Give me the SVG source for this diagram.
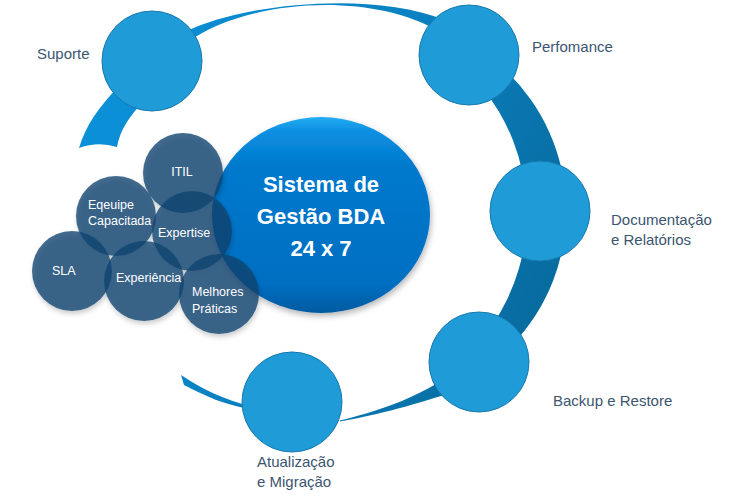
<svg xmlns="http://www.w3.org/2000/svg" width="736" height="504" viewBox="0 0 736 504">
  <defs>
    <linearGradient id="bandGrad" gradientUnits="userSpaceOnUse" x1="100" y1="100" x2="560" y2="330">
      <stop offset="0" stop-color="#0b90d8"/>
      <stop offset="0.5" stop-color="#0a80c0"/>
      <stop offset="1" stop-color="#07699b"/>
    </linearGradient>
    <linearGradient id="coreGrad" x1="0" y1="0" x2="0" y2="1">
      <stop offset="0" stop-color="#25acf4"/>
      <stop offset="0.07" stop-color="#0c90e2"/>
      <stop offset="0.25" stop-color="#0079cd"/>
      <stop offset="0.85" stop-color="#006fc2"/>
      <stop offset="1" stop-color="#005aa0"/>
    </linearGradient>
    <filter id="shadow" x="-20%" y="-20%" width="140%" height="150%">
      <feDropShadow dx="1" dy="3" stdDeviation="3" flood-color="#000" flood-opacity="0.3"/>
    </filter>
    <filter id="shadowSmall" x="-20%" y="-20%" width="140%" height="150%">
      <feDropShadow dx="1" dy="3" stdDeviation="2.5" flood-color="#000" flood-opacity="0.25"/>
    </filter>
  </defs>
  <style>
    .band { fill: url(#bandGrad); }
    .node { fill: #1f9cd8; stroke: #1a78ad; stroke-width: 1; }
    .sub { fill: #0d4470; fill-opacity: 0.78; }
    .lbl { font-family: "Liberation Sans", Arial, sans-serif; font-size: 15px; fill: #3a5570; }
    .sublbl { font-family: "Liberation Sans", Arial, sans-serif; font-size: 12.5px; fill: #ffffff; }
    .core { font-family: "Liberation Sans", Arial, sans-serif; font-size: 22px; font-weight: bold; fill: #ffffff; text-anchor: middle; }
  </style>

  <!-- connectors: the ring band -->
  <g id="connectors">
    <path class="band" d="M 79,148 C 86,125 98,108 120,85 L 145,100 C 130,115 120,130 117,147 Q 98,141 79,148 Z"/>
    <path class="band" d="M 185,32 C 240,4 370,-10 445,20 L 440,32 C 370,-10 245,0 188,42 Z"/>
    <path class="band" d="M 505,70 A 193 193 0 0 1 512,345 L 491,327 A 199 199 0 0 0 480,85 Z"/>
    <path class="band" d="M 445,378 C 420,395 390,408 340,420.5 L 340,421.5 C 392,412 425,401 450,393 Z"/>
    <path class="band" d="M 181,375 C 200,388 225,400 250,406 L 250,409 C 225,405 205,396 184,385 Z"/>
  </g>

  <!-- outer nodes -->
  <g id="node-suporte">
    <circle class="node" cx="152" cy="61" r="50"/>
    <text class="lbl" x="37" y="59">Suporte</text>
  </g>
  <g id="node-perfomance">
    <circle class="node" cx="469" cy="55" r="50"/>
    <text class="lbl" x="532" y="52">Perfomance</text>
  </g>
  <g id="node-documentacao">
    <circle class="node" cx="540" cy="211" r="50"/>
    <text class="lbl" x="611" y="225">Documentação</text>
    <text class="lbl" x="611" y="245">e Relatórios</text>
  </g>
  <g id="node-backup">
    <circle class="node" cx="479" cy="362" r="50"/>
    <text class="lbl" x="553" y="406">Backup e Restore</text>
  </g>
  <g id="node-atualizacao">
    <circle class="node" cx="292" cy="402" r="50"/>
    <text class="lbl" x="257" y="467">Atualização</text>
    <text class="lbl" x="257" y="487">e Migração</text>
  </g>

  <!-- central node -->
  <g id="node-core">
    <ellipse cx="321" cy="215" rx="109" ry="98" fill="url(#coreGrad)" filter="url(#shadow)"/>
    <text class="core" x="321" y="192">Sistema de</text>
    <text class="core" x="321" y="224">Gestão BDA</text>
    <text class="core" x="321" y="256">24 x 7</text>
  </g>

  <!-- inner cluster -->
  <g id="cluster" filter="url(#shadowSmall)">
    <g id="node-itil"><circle class="sub" cx="183" cy="173" r="40"/></g>
    <g id="node-equipe"><circle class="sub" cx="116" cy="216" r="40"/></g>
    <g id="node-expertise"><circle class="sub" cx="192" cy="231" r="40"/></g>
    <g id="node-sla"><circle class="sub" cx="72" cy="271" r="40"/></g>
    <g id="node-experiencia"><circle class="sub" cx="144" cy="281" r="40"/></g>
    <g id="node-melhores"><circle class="sub" cx="219" cy="294" r="40"/></g>
  </g>
  <g id="cluster-labels">
    <text class="sublbl" x="182" y="176" text-anchor="middle">ITIL</text>
    <text class="sublbl" x="88" y="209">Eqeuipe</text>
    <text class="sublbl" x="88" y="225">Capacitada</text>
    <text class="sublbl" x="158" y="237">Expertise</text>
    <text class="sublbl" x="52" y="275">SLA</text>
    <text class="sublbl" x="116" y="282">Experiência</text>
    <text class="sublbl" x="192" y="296">Melhores</text>
    <text class="sublbl" x="192" y="313">Práticas</text>
  </g>
</svg>
